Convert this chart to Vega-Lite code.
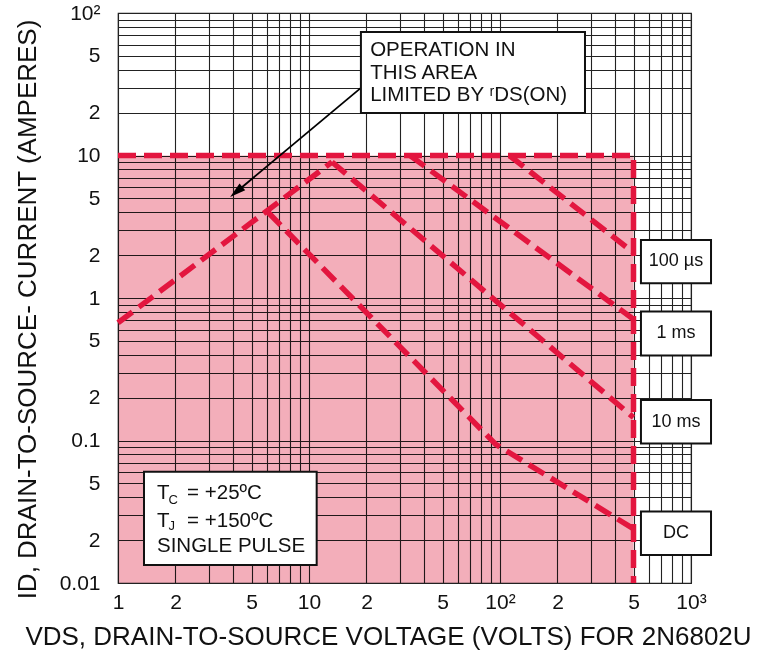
{
  "$schema": "https://vega.github.io/schema/vega-lite/v6.json",
  "width": 573,
  "height": 570,
  "autosize": {"type": "none"},
  "padding": {"left": 118, "top": 13, "right": 73, "bottom": 81},
  "background": "white",
  "config": {"view": {"stroke": "#222", "strokeWidth": 1.2}, "font": "Liberation Sans"},
  "datasets": {
    "area": [{"v": 1, "v2": 500, "i": 0.01, "i2": 10}],
    "curves": [
      {"s": "limit", "k": 1, "v": 1, "i": 10},
      {"s": "limit", "k": 2, "v": 500, "i": 10},
      {"s": "limit", "k": 3, "v": 500, "i": 0.01},
      {"s": "rds", "k": 1, "v": 1, "i": 0.67},
      {"s": "rds", "k": 2, "v": 13.2, "i": 9.0},
      {"s": "10 ms", "k": 1, "v": 13.2, "i": 9.0},
      {"s": "10 ms", "k": 2, "v": 500, "i": 0.145},
      {"s": "DC", "k": 1, "v": 6.1, "i": 4.0},
      {"s": "DC", "k": 2, "v": 95, "i": 0.094},
      {"s": "DC", "k": 3, "v": 500, "i": 0.024},
      {"s": "1 ms", "k": 1, "v": 33.8, "i": 10},
      {"s": "1 ms", "k": 2, "v": 500, "i": 0.71},
      {"s": "100 us", "k": 1, "v": 112, "i": 10},
      {"s": "100 us", "k": 2, "v": 500, "i": 2.08}
    ],
    "boxes": [
      {"v": 18.7, "v2": 278.6, "i": 73.5, "i2": 19.87},
      {"v": 1.368, "v2": 10.97, "i": 0.0604, "i2": 0.01337},
      {"v": 547, "v2": 1273, "i": 2.55, "i2": 1.27},
      {"v": 547, "v2": 1273, "i": 0.804, "i2": 0.395},
      {"v": 547, "v2": 1273, "i": 0.1924, "i2": 0.0953},
      {"v": 547, "v2": 1273, "i": 0.0318, "i2": 0.01572}
    ],
    "leftText": [
      {"t": "OPERATION IN", "v": 20.9, "i": 55.0},
      {"t": "THIS AREA", "v": 20.9, "i": 38.2},
      {"t": "LIMITED BY ʳDS(ON)", "v": 20.9, "i": 26.6},
      {"t": "T", "v": 1.6, "i": 0.0425},
      {"t": "= +25ºC", "v": 2.3, "i": 0.0425},
      {"t": "T", "v": 1.6, "i": 0.0272},
      {"t": "= +150ºC", "v": 2.3, "i": 0.0272},
      {"t": "SINGLE PULSE", "v": 1.6, "i": 0.0182}
    ],
    "subText": [
      {"t": "C", "v": 1.84, "i": 0.0385},
      {"t": "J", "v": 1.84, "i": 0.0253}
    ],
    "boxLabels": [
      {"t": "100 µs", "v": 834, "i": 1.82},
      {"t": "1 ms", "v": 834, "i": 0.564},
      {"t": "10 ms", "v": 834, "i": 0.1354},
      {"t": "DC", "v": 834, "i": 0.02236}
    ],
    "arrow": [{"v": 18.7, "i": 29.8, "v2": 4.16, "i2": 5.55}],
    "arrowHead": [{"v": 4.16, "i": 5.55}]
  },
  "encoding": {
    "x": {
      "field": "v", "type": "quantitative",
      "scale": {"type": "log", "domain": [1, 1000], "nice": false},
      "axis": {
        "values": [1, 2, 3, 4, 5, 6, 7, 8, 9, 10, 20, 30, 40, 50, 60, 70, 80, 90, 100, 200, 300, 400, 500, 600, 700, 800, 900, 1000],
        "grid": true, "gridColor": "#222", "gridWidth": 1.1, "gridOpacity": 1,
        "ticks": false, "domain": false,
        "labelExpr": "datum.value==1?'1':datum.value==10?'10':datum.value==100?'10²':datum.value==1000?'10³':indexof([2,20,200],datum.value)>=0?'2':indexof([5,50,500],datum.value)>=0?'5':''",
        "labelFont": "Liberation Sans", "labelFontSize": 21, "labelColor": "#111",
        "labelPadding": 8, "labelOverlap": false, "labelFlush": false, "labelBound": false,
        "title": "VDS, DRAIN-TO-SOURCE VOLTAGE (VOLTS) FOR 2N6802U",
        "titleFont": "Liberation Sans", "titleFontSize": 26, "titleFontWeight": "normal", "titleColor": "#111",
        "titlePadding": 11, "titleX": 270, "titleAlign": "center"
      }
    },
    "y": {
      "field": "i", "type": "quantitative",
      "scale": {"type": "log", "domain": [0.01, 100], "nice": false},
      "axis": {
        "values": [0.01, 0.02, 0.03, 0.04, 0.05, 0.06, 0.07, 0.08, 0.09, 0.1, 0.2, 0.3, 0.4, 0.5, 0.6, 0.7, 0.8, 0.9, 1, 2, 3, 4, 5, 6, 7, 8, 9, 10, 20, 30, 40, 50, 60, 70, 80, 90, 100],
        "grid": true, "gridColor": "#222", "gridWidth": 1.1, "gridOpacity": 1,
        "ticks": false, "domain": false,
        "labelExpr": "datum.value==0.01?'0.01':datum.value==0.1?'0.1':datum.value==1?'1':datum.value==10?'10':datum.value==100?'10²':indexof([0.02,0.2,2,20],datum.value)>=0?'2':indexof([0.05,0.5,5,50],datum.value)>=0?'5':''",
        "labelFont": "Liberation Sans", "labelFontSize": 21, "labelColor": "#111",
        "labelPadding": 18, "labelOverlap": false, "labelFlush": false, "labelBound": false,
        "title": "ID, DRAIN-TO-SOURCE- CURRENT (AMPERES)",
        "titleFont": "Liberation Sans", "titleFontSize": 26, "titleFontWeight": "normal", "titleColor": "#111",
        "titlePadding": 19, "titleY": 296, "titleAlign": "center"
      }
    }
  },
  "layer": [
    {
      "data": {"name": "area"},
      "mark": {"type": "rect", "fill": "#F3AEBA", "blend": "multiply"},
      "encoding": {"x2": {"field": "v2"}, "y2": {"field": "i2"}}
    },
    {
      "data": {"name": "curves"},
      "mark": {"type": "line", "color": "#E3163F", "strokeWidth": 5.5, "strokeDash": [18, 8], "strokeCap": "butt"},
      "encoding": {"detail": {"field": "s"}, "order": {"field": "k", "type": "quantitative"}}
    },
    {
      "data": {"name": "arrow"},
      "mark": {"type": "rule", "color": "#000", "strokeWidth": 1.8},
      "encoding": {"x2": {"field": "v2"}, "y2": {"field": "i2"}}
    },
    {
      "data": {"name": "arrowHead"},
      "mark": {"type": "point", "shape": "M0,-1L-0.55,1L0.55,1Z", "filled": true, "color": "#000", "opacity": 1, "size": 256, "angle": 230}
    },
    {
      "data": {"name": "boxes"},
      "mark": {"type": "rect", "fill": "white", "stroke": "#111", "strokeWidth": 2},
      "encoding": {"x2": {"field": "v2"}, "y2": {"field": "i2"}}
    },
    {
      "data": {"name": "leftText"},
      "mark": {"type": "text", "align": "left", "baseline": "middle", "fontSize": 20.5, "font": "Liberation Sans", "color": "#111"},
      "encoding": {"text": {"field": "t"}}
    },
    {
      "data": {"name": "subText"},
      "mark": {"type": "text", "align": "left", "baseline": "middle", "fontSize": 13, "font": "Liberation Sans", "color": "#111"},
      "encoding": {"text": {"field": "t"}}
    },
    {
      "data": {"name": "boxLabels"},
      "mark": {"type": "text", "align": "center", "baseline": "middle", "fontSize": 18, "font": "Liberation Sans", "color": "#111"},
      "encoding": {"text": {"field": "t"}}
    }
  ]
}
